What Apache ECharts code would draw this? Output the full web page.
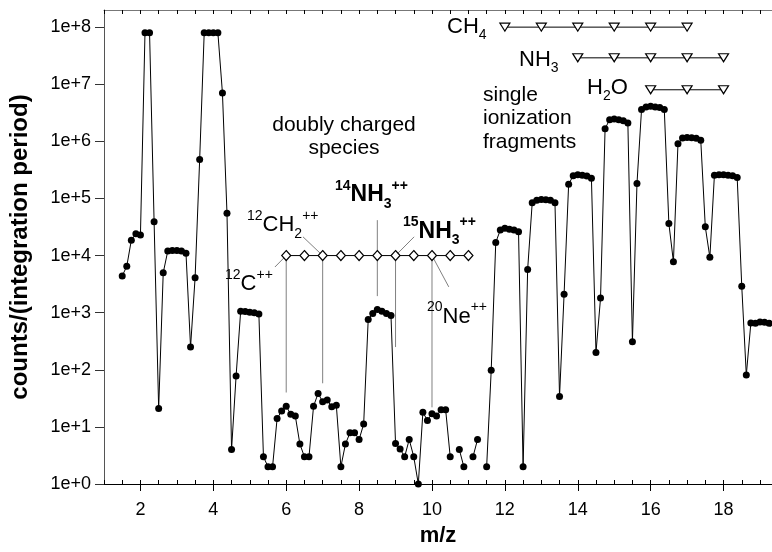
<!DOCTYPE html>
<html><head><meta charset="utf-8">
<script src="https://cdn.jsdelivr.net/npm/echarts@6/dist/echarts.min.js"></script>
<style>html,body{margin:0;padding:0;background:#fff}#c{width:772px;height:552px}</style>
</head><body><div id="c"></div>
<script>
// m/z positions of the measured points
const mz = [1.5,1.625,1.75,1.875,2,2.125,2.25,2.375,2.5,2.625,2.75,2.875,3,3.125,3.25,3.375,3.5,3.625,3.75,3.875,
4,4.125,4.25,4.375,4.5,4.625,4.75,4.875,5,5.125,5.25,5.375,5.5,5.625,5.75,5.875,6,6.125,6.25,6.375,
6.5,6.625,6.75,6.875,7,7.125,7.25,7.375,7.5,7.625,7.75,7.875,8,8.125,8.25,8.375,8.5,8.625,8.75,8.875,
9,9.125,9.25,9.375,9.5,9.625,9.75,9.875,10,10.125,10.25,10.375,10.5,10.625,10.75,10.875,11,11.125,11.25,11.375,
11.5,11.625,11.75,11.875,12,12.125,12.25,12.375,12.5,12.625,12.75,12.875,13,13.125,13.25,13.375,13.5,13.625,13.75,13.875,
14,14.125,14.25,14.375,14.5,14.625,14.75,14.875,15,15.125,15.25,15.375,15.5,15.625,15.75,15.875,16,16.125,16.25,16.375,
16.5,16.625,16.75,16.875,17,17.125,17.25,17.375,17.5,17.625,17.75,17.875,18,18.125,18.25,18.375,18.5,18.625,18.75,18.875,
19,19.125,19.25,19.375];
// counts per integration period (null = no data)
const counts = [4400,6500,18600,24000,23000,8e7,8e7,39000,21,5000,12000,12300,12300,12000,11000,250,4100,480000,8e7,8e7,
8e7,8e7,7e6,55000,4,78,1060,1050,1020,1000,950,3,2,2,14,19,23,16.6,15.5,5,
3,3,23,38.6,27.5,29.5,22.5,24,2,5,7.9,7.9,6,11.2,760,970,1140,1060,970,890,
5.1,4.1,3,6,3,1,18,13,17,15.5,20,20,3,null,4,2,null,3,6,null,
2,98,17000,28000,30000,29000,28000,26000,2,5700,84000,93000,96000,95000,93000,84000,34,2100,178000,250000,
260000,255000,248000,225000,200,1800,1.67e6,2.4e6,2.45e6,2.4e6,2.3e6,2.1e6,310,182000,3.6e6,4.0e6,4.1e6,4.0e6,3.9e6,3.6e6,
36500,7800,910000,1.15e6,1.17e6,1.16e6,1.13e6,1.05e6,31800,9300,255000,260000,260000,255000,250000,233000,2900,81,660,650,
690,680,650,640];

// fragment marker rows
const ch4X = [12,13,14,15,16,17];  const ch4Y = 1e8;
const nh3X = [14,15,16,17,18];     const nh3Y = 2.9e7;
const h2oX = [16,17,18];           const h2oY = 8e6;
// doubly charged species row
const dcX = [6,6.5,7,7.5,8,8.5,9,9.5,10,10.5,11]; const dcY = 1e4;
// pointer lines [[x1,y1],[x2,y2]]
const pointerLines = [
  [[6,1e4],[6,40]],
  [[7,1e4],[7,58]],
  [[8.5,41700],[8.5,1950]],
  [[9,1e4],[9,250]],
  [[10,1e4],[10,22]],
  [[6,1e4],[5.69,6300]],
  [[7,1e4],[6.46,21300]],
  [[9,1e4],[9.51,21300]],
  [[10,1e4],[10.46,2830]]
];
const xTickLabels = [2,4,6,8,10,12,14,16,18];

const FF = '"Liberation Sans", Arial, sans-serif';
const chart = echarts.init(document.getElementById('c'), null, {renderer:'canvas'});

function markerRow(xs, y, symbol, rot, size) {
  return {
    type:'line', xAxisIndex:0, yAxisIndex:0,
    data: xs.map(x => [x, y]),
    symbol: symbol, symbolRotate: rot, symbolSize: size, showAllSymbol: true,
    lineStyle:{color:'#000', width:1},
    itemStyle:{color:'#fff', borderColor:'#000', borderWidth:1.2},
    z: 5, silent: true
  };
}

const series = [];
pointerLines.forEach(seg => {
  series.push({type:'line', data: seg, symbol:'none', lineStyle:{color:'#808080', width:1}, z:2, silent:true});
});
series.push({
  type:'line', data: mz.map((x,i) => [x, counts[i] == null ? '-' : counts[i]]),
  symbol:'circle', symbolSize:7, showAllSymbol:true, connectNulls:false,
  lineStyle:{color:'#000', width:1}, itemStyle:{color:'#000'}, z:4
});
series.push(markerRow(ch4X, ch4Y, 'triangle', 180, [10,8]));
series.push(markerRow(nh3X, nh3Y, 'triangle', 180, [10,8]));
series.push(markerRow(h2oX, h2oY, 'triangle', 180, [10,8]));
series.push(markerRow(dcX, dcY, 'diamond', 0, [9,10]));

const rich = {
  sup:{fontSize:14, lineHeight:12, verticalAlign:'top', fontFamily:FF, fill:'#000'},
  m:{fontSize:22, lineHeight:32, verticalAlign:'middle', fontFamily:FF, fill:'#000'},
  sub:{fontSize:14, lineHeight:10, verticalAlign:'bottom', fontFamily:FF, fill:'#000'},
  supb:{fontSize:14, lineHeight:12, verticalAlign:'top', fontWeight:'bold', fontFamily:FF, fill:'#000'},
  mb:{fontSize:23, lineHeight:32, verticalAlign:'middle', fontWeight:'bold', fontFamily:FF, fill:'#000'},
  subb:{fontSize:14, lineHeight:10, verticalAlign:'bottom', fontWeight:'bold', fontFamily:FF, fill:'#000'}
};
function label(x, y, text) {
  return {type:'text', x:x, y:y, z:50, style:{text:text, rich:rich, fontFamily:FF, fontSize:20, fill:'#000', align:'left', verticalAlign:'top'}};
}

const xBase = {type:'value', min:1, max:19.33, splitLine:{show:false}};
chart.setOption({
  animation:false,
  backgroundColor:'#fff',
  grid:{left:101, right:0, top:10, bottom:68, containLabel:false},
  xAxis:[
    Object.assign({}, xBase, {position:'bottom', interval:0.5,
      axisLine:{lineStyle:{color:'#000', width:1}},
      axisTick:{inside:true, length:4, lineStyle:{color:'#000'}},
      axisLabel:{show:false}}),
    Object.assign({}, xBase, {position:'bottom',
      axisLine:{show:false},
      axisTick:{customValues:xTickLabels, inside:false, length:7, lineStyle:{color:'#000'}},
      axisLabel:{customValues:xTickLabels, fontSize:18, color:'#000', fontFamily:FF, margin:17},
      name:'m/z', nameLocation:'middle', nameGap:41,
      nameTextStyle:{fontSize:22, fontWeight:'bold', color:'#000', fontFamily:FF}}),
    Object.assign({}, xBase, {position:'top', interval:0.5,
      axisLine:{lineStyle:{color:'#777', width:1}},
      axisTick:{inside:true, length:4, lineStyle:{color:'#000'}},
      axisLabel:{show:false}})
  ],
  yAxis:{
    type:'log', logBase:10, min:1, max:Math.pow(10,8.3), splitLine:{show:false},
    axisLine:{show:true, lineStyle:{color:'#555'}},
    axisTick:{show:true, inside:false, length:9, lineStyle:{color:'#333'}},
    axisLabel:{fontSize:18, color:'#000', fontFamily:FF, margin:13, showMaxLabel:false,
      formatter: v => '1e+' + Math.round(Math.log10(v))},
    name:'counts/(integration period)', nameLocation:'middle', nameGap:72,
    nameTextStyle:{fontSize:24, fontWeight:'bold', color:'#000', fontFamily:FF}
  },
  series: series,
  graphic:[
    {type:'rect', shape:{x:84, y:6, width:16, height:8}, style:{fill:'#fff'}, z:100},
    label(447, 10.5, '{m|CH}{sub|4}'),
    label(519, 43.5, '{m|NH}{sub|3}'),
    label(587, 71.5, '{m|H}{sub|2}{m|O}'),
    {type:'text', x:483, y:83, z:50, style:{text:'single\nionization\nfragments', fontFamily:FF, fontSize:21, lineHeight:23.5, fill:'#000', align:'left', verticalAlign:'top'}},
    {type:'text', x:344, y:114, z:50, style:{text:'doubly charged\nspecies', fontFamily:FF, fontSize:21, lineHeight:23, fill:'#000', align:'center', verticalAlign:'top'}},
    label(225, 268, '{sup|12}{m|C}{sup|++}'),
    label(247, 209, '{sup|12}{m|CH}{sub|2}{sup|++}'),
    label(335, 179, '{supb|14}{mb|NH}{subb|3}{supb|++}'),
    label(403, 215.5, '{supb|15}{mb|NH}{subb|3}{supb|++}'),
    label(427, 300.5, '{sup|20}{m|Ne}{sup|++}')
  ]
});
</script></body></html>
